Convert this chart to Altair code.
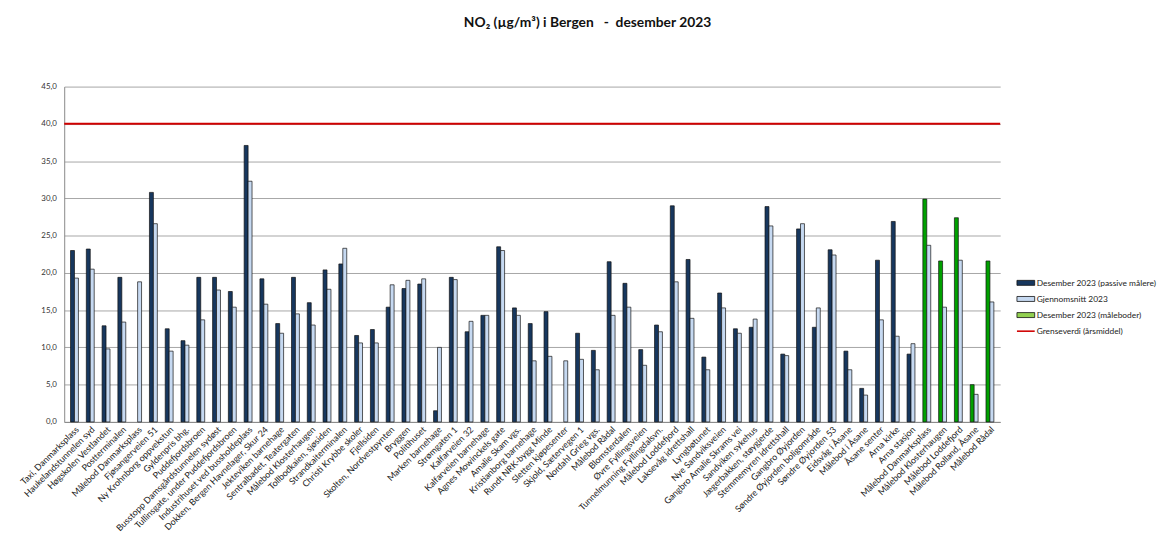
import altair as alt
import pandas as pd

categories = [
    "Taxi, Danmarksplass", "Haukelandstunnelen syd", "Høgskolen Vestlandet", "Postterminalen",
    "Målebod Danmarksplass", "Fjøsangerveien 51", "Ny Krohnborg oppvekstun", "Gyldenpris bhg.",
    "Puddefjordsbroen", "Busstopp Damsgårdstunnelen sydøst", "Tullinsgate, under Puddefjordsbroen",
    "Industrihuset ved bussholdeplass", "Dokken, Bergen Havnelager, Skur 24", "Jekteviken barnehage",
    "Sentralbadet, Teatergaten", "Målebod Klosterhaugen", "Tollbodkaien, sjøsiden", "Strandkaiterminalen",
    "Christi Krybbe skoler", "Fjellsiden", "Skolten, Nordvestpynten", "Bryggen", "Politihuset",
    "Marken barnehage", "Strømgaten 1", "Kalfarveien 32", "Kalfarveien barnehage",
    "Agnes Mowinckels gate", "Amalie Skam vgs.", "Kristianborg barnehage", "Rundt NRK-bygg Minde",
    "Sletten kjøpesenter", "Skjold, Sætervegen 1", "Nordahl Grieg vgs.", "Målebod Rådal",
    "Blomsterdalen", "Øvre Fyllingsveien", "Tunnelmunning Fyllingdalsvn.", "Målebod Loddefjord",
    "Laksevåg idrettshall", "Lyngbøtunet", "Nye Sandviksveien", "Gangbro Amalie Skrams vei",
    "Sandviken sykehus", "Jægerbakken, støygjerde", "Stemmemyren idrettshall", "Gangbro Øyjorden",
    "Søndre Øyjorden boligområde", "Søndre  Øyjorden 53", "Eidsvåg i Åsane", "Målebod i Åsane",
    "Åsane senter", "Arna kirke", "Arna stasjon", "Målebod Danmarksplass", "Målebod Klosterhaugen",
    "Målebod Loddefjord", "Målebod Rolland, Åsane", "Målebod Rådal",
]

# December 2023 value (None = no value); kind: "p" passive samplers, "m" measuring stations
december = [
    23.0, 23.2, 12.9, 19.4, None, 30.8, 12.5, 10.9, 19.4, 19.4, 17.5, 37.1, 19.2, 13.2, 19.4, 16.0,
    20.4, 21.2, 11.6, 12.4, 15.4, 17.9, 18.5, 1.5, 19.4, 12.1, 14.3, 23.5, 15.3, 13.2, 14.8, None,
    11.9, 9.6, 21.5, 18.6, 9.7, 13.0, 29.0, 21.8, 8.7, 17.3, 12.5, 12.7, 28.9, 9.1, 25.9, 12.7,
    23.1, 9.5, 4.5, 21.7, 26.9, 9.1, 29.9, 21.6, 27.4, 5.0, 21.6,
]
average = [
    19.3, 20.5, 9.8, 13.4, 18.8, 26.6, 9.5, 10.3, 13.7, 17.7, 15.4, 32.3, 15.8, 11.9, 14.5, 13.0,
    17.8, 23.3, 10.6, 10.6, 18.4, 19.0, 19.2, 10.0, 19.1, 13.5, 14.3, 23.0, 14.3, 8.2, 8.8, 8.2,
    8.4, 7.0, 14.3, 15.4, 7.6, 12.1, 18.8, 13.9, 7.0, 15.3, 11.9, 13.8, 26.3, 8.9, 26.6, 15.3,
    22.4, 7.0, 3.6, 13.7, 11.5, 10.5, 23.7, 15.4, 21.7, 3.7, 16.1,
]
kinds = ["p"] * 54 + ["m"] * 5

limit_value = 40.0

S_PASSIVE = "Desember 2023 (passive målere)"
S_AVG = "Gjennomsnitt 2023"
S_STATION = "Desember 2023 (måleboder)"
S_LIMIT = "Grenseverdi (årsmiddel)"
series_order = [S_PASSIVE, S_AVG, S_STATION, S_LIMIT]

rows = []
for i, (d, a, k) in enumerate(zip(december, average, kinds)):
    if d is not None:
        rows.append({"idx": i, "slot": "a", "series": S_PASSIVE if k == "p" else S_STATION, "value": d})
    rows.append({"idx": i, "slot": "b", "series": S_AVG, "value": a})
df = pd.DataFrame(rows)
limit_df = pd.DataFrame([{"series": S_LIMIT, "value": limit_value}])
legend_df = pd.DataFrame({"series": series_order})

label_array = "[" + ",".join("'" + c + "'" for c in categories) + "]"

FONT = "Lato"
LINE_PATH = "M-1,0H1"
BOX_PATH = "M-1,-0.28H1V0.28H-1Z"

bar_colors = alt.Scale(domain=[S_PASSIVE, S_AVG, S_STATION], range=["#17375E", "#C6D9F1", "#00A000"])
legend_colors = alt.Scale(domain=[S_PASSIVE, S_AVG, S_STATION], range=["#17375E", "#C6D9F1", "#92D050"])

y_axis = alt.Axis(
    title=None, values=list(range(0, 50, 5)), ticks=False, labelPadding=8,
    labelExpr="replace(format(datum.value, '.1f'), '.', ',')",
    labelFont=FONT, labelFontSize=8, labelColor="#333",
    gridColor="#A6A6A6", gridWidth=1, domainColor="#888", domainWidth=1,
    minExtent=35, maxExtent=35,
)
y_scale = alt.Scale(domain=[0, 45])

bars = alt.Chart(df).mark_bar(stroke="#111", strokeWidth=0.7).encode(
    x=alt.X(
        "idx:O",
        scale=alt.Scale(paddingInner=0.5, paddingOuter=0.4),
        axis=alt.Axis(
            title=None, labelExpr=label_array + "[datum.value]", labelAngle=315,
            labelFont=FONT, labelFontSize=9, labelColor="#222", labelLimit=220,
            ticks=False, labelPadding=3, domainColor="#888", domainWidth=1,
        ),
    ),
    xOffset=alt.XOffset("slot:N", scale=alt.Scale(domain=["a", "b"], paddingInner=0, paddingOuter=0)),
    y=alt.Y("value:Q", scale=y_scale, axis=y_axis),
    color=alt.Color("series:N", scale=bar_colors, legend=None),
)

rule = alt.Chart(limit_df).mark_rule(strokeWidth=2, color="#D00000").encode(
    y=alt.Y("value:Q", scale=y_scale, axis=y_axis)
)

no_frame = alt.ViewBackground(stroke="transparent", strokeWidth=0)

main = alt.layer(bars, rule).properties(width=949, height=340, view=no_frame)

leg_y = alt.Y(
    "series:N",
    scale=alt.Scale(type="point", domain=series_order, range=[199, 248], padding=0),
    axis=None,
)

leg_boxes = alt.Chart(legend_df).transform_filter(
    alt.datum.series != S_LIMIT
).mark_point(shape=BOX_PATH, filled=True, size=324, stroke="#111", strokeWidth=0.8, opacity=1).encode(
    x=alt.value(11),
    y=leg_y,
    fill=alt.Fill("series:N", scale=legend_colors, legend=None),
)
leg_line = alt.Chart(legend_df).transform_filter(
    alt.datum.series == S_LIMIT
).mark_point(shape=LINE_PATH, size=324, stroke="#D00000", strokeWidth=1.6, opacity=1).encode(
    x=alt.value(11),
    y=leg_y,
)
leg_text = alt.Chart(legend_df).mark_text(
    align="left", baseline="middle", font=FONT, fontSize=8.5, color="#222"
).encode(
    x=alt.value(22),
    y=leg_y,
    text="series:N",
)
legend_chart = alt.layer(leg_boxes, leg_line, leg_text).properties(width=110, height=340, view=no_frame)

chart = (
    alt.hconcat(main, legend_chart, spacing=12)
    .properties(
        title=alt.TitleParams(
            "NO₂ (µg/m³) i Bergen\u00a0\u00a0\u00a0-\u00a0\u00a0desember 2023",
            font=FONT, fontSize=14, fontWeight="bold", color="#111",
            anchor="middle", frame="bounds", offset=53,
        ),
        padding={"left": 11, "top": 5, "right": 0, "bottom": 0},
    )
    .configure_view(stroke="transparent", strokeWidth=0)
    .configure(background="white")
)

chart.save("out.html", embed_options={"renderer": "svg", "actions": False})
